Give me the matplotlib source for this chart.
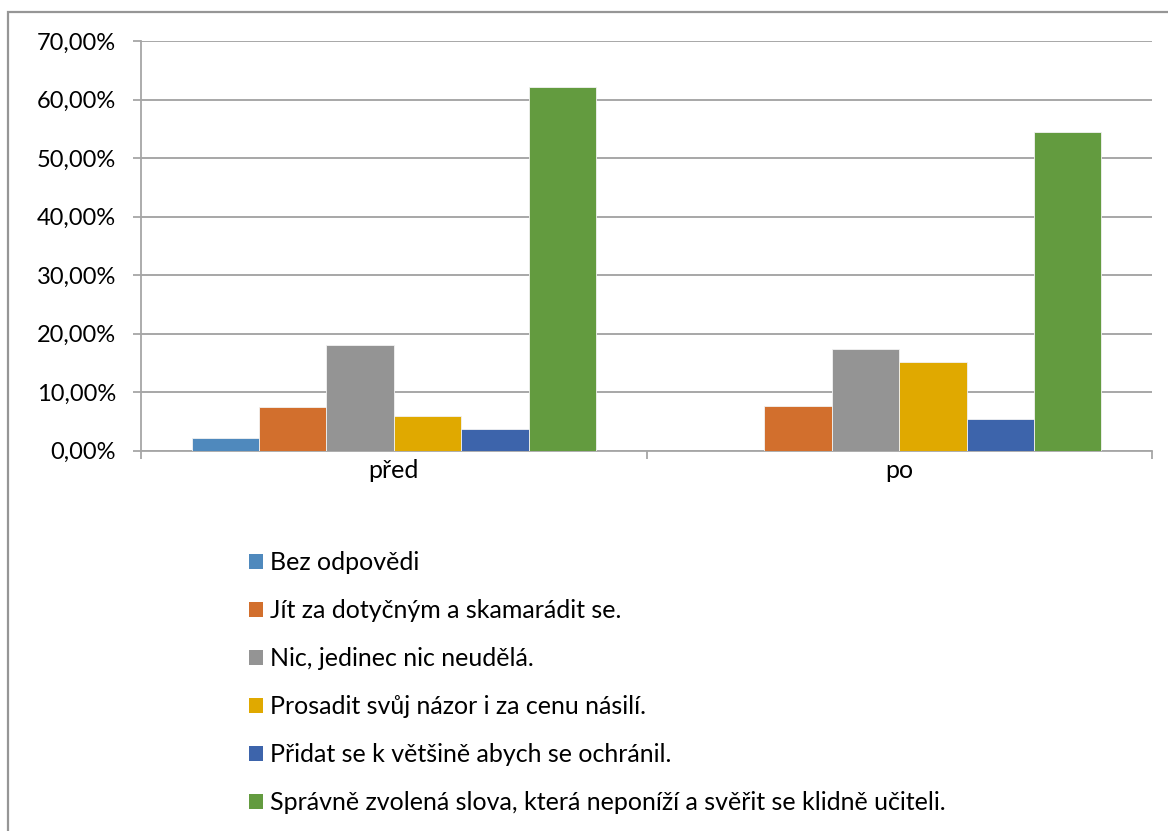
import matplotlib
matplotlib.use("Agg")
import matplotlib.pyplot as plt
import matplotlib.patches as mpatches
import numpy as np

plt.rcParams['font.family'] = ['Lato', 'DejaVu Sans']

groups = ["před", "po"]
series = [
    "Bez odpovědi",
    "Jít za dotyčným a skamarádit se.",
    "Nic, jedinec nic neudělá.",
    "Prosadit svůj názor i za cenu násilí.",
    "Přidat se k většině abych se ochránil.",
    "Správně zvolená slova, která neponíží a svěřit se klidně učiteli.",
]
values_pred = [2.2, 7.5, 18.0, 5.9, 3.6, 62.1]
values_po = [0.0, 7.6, 17.4, 15.1, 5.3, 54.4]
colors = ["#4F89BD", "#D26F2D", "#949494", "#E0A900", "#3D64AB", "#639B3F"]
ytick_values = [0, 10, 20, 30, 40, 50, 60, 70]

W, H = 1168, 831
fig = plt.figure(figsize=(W / 100, H / 100), dpi=100)
fig.patch.set_facecolor("white")

# outer chart-area frame (runs past the right and bottom edges)
frame = mpatches.Rectangle((7.5 / W, -0.2), 1.3, 0.2 + (1 - 11.5 / H),
                           transform=fig.transFigure, fill=False,
                           edgecolor="#969696", linewidth=1.6)
fig.patches.append(frame)

left, right = 141 / W, 1152 / W
bottom, top = 1 - 450.5 / H, 1 - 41 / H
ax = fig.add_axes([left, bottom, right - left, top - bottom])

n = len(series)
bar_w = 1.0 / (n + 1.5)
x = np.arange(len(groups))
data = np.array([values_pred, values_po])
for i in range(n):
    offs = (i - (n - 1) / 2) * bar_w
    ax.bar(x + offs, data[:, i], width=bar_w, color=colors[i],
           edgecolor="#F2F2F2", linewidth=0.6, label=series[i], zorder=3)

ax.set_xlim(-0.5, 1.5)
ax.set_ylim(0, 70)
ax.set_yticks(ytick_values)
ax.set_yticklabels([f"{v:.2f}".replace(".", ",") + "%" for v in ytick_values])
ax.yaxis.grid(True, color="#A0A0A0", linewidth=1.3, zorder=0)
ax.set_axisbelow(True)

ax.set_xticks(x)
ax.set_xticklabels(groups)
ax.set_xticks([-0.5, 0.5, 1.5], minor=True)
ax.tick_params(axis="x", which="major", length=0, pad=6, labelsize=18, colors="#000000")
ax.tick_params(axis="x", which="minor", length=6, width=1.3, color="#A6A6A6")
ax.tick_params(axis="y", length=6, width=1.3, color="#A6A6A6", pad=12, labelsize=17)

for s in ["top", "right"]:
    ax.spines[s].set_visible(False)
for s in ["left", "bottom"]:
    ax.spines[s].set_color("#A6A6A6")
    ax.spines[s].set_linewidth(1.3)

handles = [mpatches.Patch(facecolor=c, edgecolor="none") for c in colors]
fig.legend(handles, series, loc="upper left",
           bbox_to_anchor=(249 / W, 1 - 551 / H),
           frameon=False, fontsize=18, handlelength=0.55, handleheight=0.55,
           handletextpad=0.3, labelspacing=1.0, borderaxespad=0, borderpad=0)

fig.savefig("out.png", dpi=100, facecolor="white")
